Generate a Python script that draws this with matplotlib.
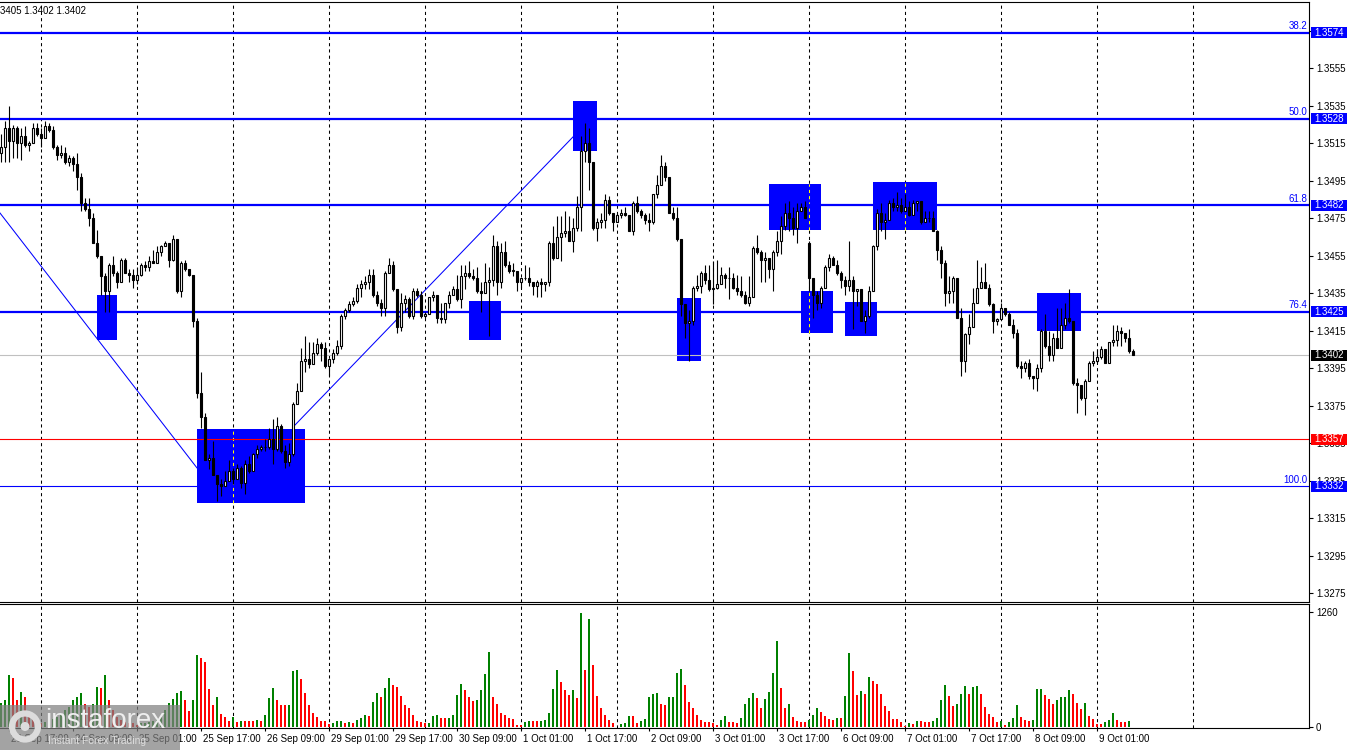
import matplotlib
matplotlib.use('Agg')
import matplotlib.pyplot as plt
import matplotlib.patches as mpatches
import matplotlib.transforms as mtransforms
import numpy as np

plt.rcParams['font.family'] = ['Liberation Sans', 'DejaVu Sans']

# H1 candles, prices in points (1 point = 0.0001)
first_open = 13510
gap_open = {202: 13462}
close_pts = [
    13513, 13523, 13516, 13523, 13515, 13519, 13514, 13515, 13523, 13520,
    13518, 13524, 13522, 13513, 13509, 13510, 13505, 13507, 13504, 13497,
    13483, 13480, 13475, 13462, 13455, 13444, 13436, 13450, 13446, 13441,
    13453, 13446, 13445, 13442, 13445, 13450, 13449, 13452, 13451, 13457,
    13460, 13462, 13453, 13464, 13436, 13451, 13448, 13445, 13420, 13382,
    13369, 13346, 13347, 13338, 13333, 13332, 13335, 13340, 13336, 13342,
    13334, 13344, 13340, 13349, 13352, 13353, 13353, 13357, 13352, 13364,
    13351, 13345, 13349, 13376, 13383, 13399, 13400, 13397, 13403, 13408,
    13406, 13396, 13400, 13403, 13407, 13423, 13426, 13429, 13431, 13438,
    13440, 13441, 13445, 13434, 13430, 13427, 13446, 13450, 13437, 13417,
    13430, 13432, 13423, 13436, 13434, 13423, 13424, 13433, 13434, 13422,
    13421, 13430, 13434, 13437, 13432, 13444, 13446, 13444, 13443, 13436,
    13435, 13441, 13442, 13460, 13441, 13457, 13450, 13447, 13447, 13441,
    13443, 13443, 13441, 13439, 13441, 13440, 13441, 13462, 13454, 13465,
    13467, 13468, 13463, 13470, 13481, 13511, 13515, 13505, 13470, 13473,
    13474, 13485, 13478, 13473, 13477, 13478, 13477, 13468, 13483, 13479,
    13477, 13474, 13473, 13488, 13493, 13503, 13497, 13478, 13475, 13464,
    13429, 13419, 13420, 13438, 13439, 13446, 13442, 13437, 13438, 13440,
    13445, 13443, 13443, 13438, 13436, 13434, 13430, 13433, 13459, 13457,
    13453, 13454, 13448, 13457, 13463, 13471, 13478, 13475, 13470, 13479,
    13481, 13475, 13443, 13434, 13430, 13438, 13449, 13454, 13450, 13446,
    13442, 13439, 13442, 13436, 13437, 13420, 13423, 13436, 13460, 13478,
    13473, 13474, 13483, 13481, 13482, 13479, 13481, 13477, 13483, 13484,
    13473, 13475, 13475, 13468, 13458, 13451, 13435, 13436, 13443, 13422,
    13399, 13413, 13417, 13430, 13438, 13441, 13438, 13429, 13420, 13421,
    13427, 13424, 13418, 13414, 13396, 13395, 13398, 13391, 13390, 13395,
    13415, 13407, 13402, 13411, 13406, 13418, 13422, 13420, 13387, 13386,
    13379, 13388, 13398, 13399, 13401, 13405, 13398, 13409, 13410, 13415,
    13414, 13411, 13404, 13402,
]
high_pts = [
    13520, 13527, 13535, 13525, 13524, 13523, 13524, 13516, 13526, 13526,
    13523, 13527, 13526, 13524, 13514, 13514, 13513, 13509, 13508, 13510,
    13499, 13486, 13486, 13478, 13469, 13455, 13446, 13451, 13455, 13447,
    13454, 13454, 13448, 13448, 13449, 13451, 13452, 13455, 13458, 13460,
    13461, 13463, 13461, 13466, 13463, 13452, 13453, 13448, 13445, 13422,
    13393, 13371, 13349, 13356, 13338, 13336, 13340, 13346, 13342, 13344,
    13343, 13346, 13348, 13350, 13354, 13354, 13357, 13363, 13368, 13369,
    13365, 13354, 13355, 13377, 13387, 13406, 13412, 13409, 13409, 13411,
    13409, 13409, 13400, 13405, 13410, 13424, 13427, 13431, 13433, 13440,
    13442, 13444, 13448, 13448, 13436, 13432, 13447, 13454, 13452, 13436,
    13435, 13434, 13433, 13438, 13438, 13436, 13425, 13433, 13436, 13432,
    13430, 13430, 13436, 13439, 13445, 13450, 13450, 13452, 13448, 13449,
    13441, 13451, 13449, 13466, 13463, 13462, 13463, 13452, 13451, 13447,
    13443, 13450, 13449, 13441, 13442, 13443, 13441, 13463, 13471, 13476,
    13476, 13479, 13476, 13475, 13487, 13519, 13526, 13523, 13505, 13475,
    13478, 13488, 13487, 13478, 13478, 13480, 13481, 13476, 13484, 13487,
    13480, 13478, 13478, 13488, 13498, 13509, 13505, 13497, 13481, 13481,
    13464, 13429, 13426, 13439, 13445, 13447, 13450, 13450, 13452, 13453,
    13449, 13446, 13449, 13446, 13445, 13444, 13436, 13444, 13460, 13466,
    13458, 13457, 13454, 13458, 13468, 13476, 13483, 13484, 13481, 13483,
    13483, 13484, 13463, 13443, 13436, 13439, 13450, 13456, 13455, 13453,
    13447, 13444, 13463, 13444, 13437, 13436, 13426, 13439, 13461, 13480,
    13483, 13478, 13485, 13486, 13489, 13486, 13488, 13484, 13485, 13484,
    13480, 13479, 13479, 13479, 13469, 13460, 13453, 13444, 13444, 13443,
    13427, 13414, 13424, 13438, 13453, 13449, 13451, 13440, 13430, 13422,
    13430, 13427, 13425, 13421, 13416, 13399, 13399, 13400, 13391, 13397,
    13416, 13424, 13415, 13414, 13427, 13427, 13430, 13437, 13420, 13390,
    13386, 13389, 13399, 13404, 13405, 13407, 13405, 13409, 13418, 13418,
    13417, 13414, 13416, 13405,
]
low_pts = [
    13505, 13505, 13505, 13507, 13507, 13506, 13513, 13511, 13515, 13519,
    13513, 13518, 13521, 13512, 13506, 13507, 13504, 13503, 13500, 13490,
    13479, 13479, 13471, 13462, 13454, 13434, 13425, 13425, 13444, 13438,
    13441, 13446, 13441, 13438, 13440, 13444, 13447, 13447, 13451, 13452,
    13455, 13460, 13449, 13452, 13435, 13433, 13447, 13444, 13417, 13379,
    13363, 13346, 13341, 13338, 13324, 13327, 13332, 13335, 13333, 13336,
    13331, 13328, 13339, 13340, 13347, 13351, 13351, 13352, 13344, 13351,
    13350, 13342, 13343, 13348, 13376, 13383, 13393, 13395, 13397, 13402,
    13399, 13395, 13391, 13398, 13402, 13405, 13421, 13425, 13428, 13430,
    13433, 13437, 13437, 13433, 13428, 13423, 13423, 13446, 13436, 13414,
    13415, 13425, 13422, 13421, 13433, 13422, 13422, 13425, 13431, 13419,
    13419, 13419, 13427, 13434, 13431, 13427, 13437, 13443, 13442, 13435,
    13425, 13436, 13412, 13439, 13434, 13438, 13449, 13446, 13444, 13436,
    13438, 13442, 13439, 13434, 13433, 13433, 13436, 13439, 13453, 13456,
    13452, 13465, 13463, 13457, 13468, 13468, 13505, 13490, 13469, 13463,
    13470, 13470, 13477, 13468, 13474, 13475, 13476, 13468, 13466, 13478,
    13475, 13472, 13468, 13472, 13486, 13493, 13495, 13478, 13474, 13463,
    13423, 13411, 13399, 13418, 13436, 13435, 13440, 13436, 13429, 13437,
    13440, 13438, 13432, 13437, 13434, 13433, 13429, 13428, 13433, 13456,
    13441, 13441, 13443, 13436, 13455, 13456, 13469, 13468, 13466, 13462,
    13479, 13475, 13436, 13422, 13426, 13427, 13439, 13447, 13450, 13445,
    13438, 13434, 13436, 13416, 13428, 13420, 13414, 13422, 13436, 13458,
    13468, 13464, 13474, 13479, 13479, 13478, 13480, 13476, 13478, 13479,
    13472, 13473, 13473, 13468, 13453, 13443, 13428, 13430, 13430, 13422,
    13391, 13393, 13408, 13417, 13430, 13439, 13438, 13428, 13414, 13418,
    13421, 13423, 13418, 13411, 13395, 13390, 13393, 13389, 13384, 13383,
    13393, 13406, 13399, 13399, 13406, 13406, 13416, 13419, 13386, 13371,
    13378, 13370, 13388, 13396, 13398, 13400, 13398, 13398, 13407, 13407,
    13407, 13409, 13403, 13402,
]
volumes = [
    260, 296, 570, 533, 296, 387, 332, 150, 95, 77,
    40, 58, 69, 84, 113, 150, 186, 223, 296, 325,
    369, 248, 223, 252, 435, 430, 570, 296, 186, 113,
    77, 58, 47, 40, 22, 40, 47, 58, 69, 84,
    113, 186, 260, 307, 369, 398, 296, 175, 296, 789,
    753, 716, 413, 241, 332, 142, 106, 69, 113, 58,
    69, 69, 66, 66, 77, 69, 132, 314, 424, 296,
    241, 236, 245, 614, 625, 523, 369, 241, 150, 106,
    69, 66, 33, 47, 62, 69, 47, 58, 47, 77,
    95, 132, 121, 278, 376, 332, 424, 533, 460, 435,
    340, 241, 205, 132, 69, 58, 40, 47, 124, 132,
    102, 95, 98, 132, 351, 471, 405, 325, 289, 296,
    405, 581, 818, 332, 252, 150, 132, 95, 93, 22,
    20, 58, 69, 69, 69, 70, 77, 150, 413, 625,
    497, 405, 351, 405, 314, 1250, 625, 1184, 680, 340,
    205, 132, 77, 47, 4, 33, 47, 121, 118, 47,
    69, 88, 325, 362, 376, 252, 241, 325, 332, 588,
    636, 460, 278, 205, 132, 77, 58, 55, 47, 22,
    77, 124, 58, 55, 47, 95, 252, 321, 369, 314,
    212, 307, 380, 588, 943, 424, 205, 252, 113, 69,
    58, 50, 77, 132, 205, 168, 121, 84, 80, 102,
    95, 340, 808, 614, 351, 395, 362, 545, 504, 471,
    358, 234, 175, 88, 85, 55, 11, 40, 38, 69,
    66, 51, 50, 66, 95, 296, 460, 340, 230, 252,
    358, 449, 362, 442, 445, 362, 223, 142, 106, 51,
    69, 22, 55, 95, 241, 106, 77, 69, 77, 413,
    416, 351, 303, 252, 296, 325, 328, 405, 358, 260,
    194, 260, 121, 84, 33, 30, 58, 77, 150, 77,
    55, 52, 66, 2,
]

fib_prices = [1.3574, 1.3528, 1.3482, 1.3425, 1.3332]
fib_names = ['38.2', '50.0', '61.8', '76.4', '100.0']
support_price = 1.3357
last_price = 1.3402

# rectangles: bar index left/right, price low/high
box_left = [24, 49, 117, 143, 169, 192, 200, 211, 218, 259]
box_right = [29, 76, 125, 149, 175, 205, 208, 219, 234, 270]
box_low = [1.3410, 1.3323, 1.3410, 1.3511, 1.3399, 1.3469, 1.3414, 1.3412, 1.3469, 1.3415]
box_high = [1.3434, 1.33625, 1.3431, 1.35376, 1.34325, 1.34933, 1.34362, 1.34303, 1.34944, 1.34351]

# trend lines (bar index, price)
trend_x = [(-0.25, 49), (73.5, 143)]
trend_y = [(1.34778, 1.33418), (1.33647, 1.35184)]

grid_idx = [10, 34, 58, 82, 106, 130, 154, 178, 202, 226, 250, 274, 298]
label_idx = [2, 18, 34, 50, 66, 82, 98, 114, 130, 146, 162, 178, 194, 210, 226, 242, 258, 274]
labels = ['23 Sep 17:00', '24 Sep 09:00', '25 Sep 01:00', '25 Sep 17:00', '26 Sep 09:00',
          '29 Sep 01:00', '29 Sep 17:00', '30 Sep 09:00', '1 Oct 01:00', '1 Oct 17:00',
          '2 Oct 09:00', '3 Oct 01:00', '3 Oct 17:00', '6 Oct 09:00', '7 Oct 01:00',
          '7 Oct 17:00', '8 Oct 09:00', '9 Oct 01:00']
yticks = [1.3275, 1.3295, 1.3315, 1.3335, 1.3355, 1.3375, 1.3395, 1.3415, 1.3435,
          1.3455, 1.3475, 1.3495, 1.3515, 1.3535, 1.3555, 1.3575]

n = len(close_pts)
idx = np.arange(n)
close = np.array(close_pts) / 1e4
opn = np.concatenate([[first_open], close_pts[:-1]]) / 1e4
for k, v in gap_open.items():
    opn[k] = v / 1e4
high = np.maximum(np.array(high_pts) / 1e4, np.maximum(opn, close))
low = np.minimum(np.array(low_pts) / 1e4, np.minimum(opn, close))

W, H = 1350, 750
fig = plt.figure(figsize=(13.5, 7.5), dpi=100)
ax = fig.add_axes([0, 1 - 602 / H, 1309 / W, 600 / H])
axv = fig.add_axes([0, 1 - 728 / H, 1309 / W, 124 / H])

ymin, ymax = 1.327028, 1.359038
pxp = (ymax - ymin) / 600.0

for a in (ax, axv):
    a.set_xlim(-0.25, 327)
    a.spines['left'].set_visible(False)
    for s in a.spines.values():
        s.set_linewidth(0.8)
    a.tick_params(axis='y', left=False, labelleft=False, right=True, labelright=True,
                  direction='out', length=3, width=0.8, labelsize=7, pad=2)
    for g in grid_idx:
        a.axvline(g, color='black', lw=0.75, ls=(0, (3, 3)), zorder=0.5)

ax.set_ylim(ymin, ymax)
ax.set_xticks([])
ax.set_yticks(yticks)
ax.set_yticklabels(['%.4f' % t for t in yticks])

# rectangles
for l, r, lo, hi in zip(box_left, box_right, box_low, box_high):
    ax.add_patch(mpatches.Rectangle((l, lo), r - l, hi - lo, facecolor='#0000FF',
                                    edgecolor='none', zorder=1))
    for g in grid_idx:
        if l < g < r:
            ax.plot([g, g], [lo, hi], color='#FFFF00', lw=0.75, ls=(0, (3, 3)), zorder=1.1)

# horizontal levels
for p, name in zip(fib_prices, fib_names):
    ax.axhline(p, color='#0000FF', lw=0.8 if name == '100.0' else 1.6, zorder=1.5)
ax.axhline(support_price, color='#FF0000', lw=0.8, zorder=1.5)
ax.axhline(last_price, color='#C0C0C0', lw=0.8, zorder=1.4)

for xs, ys in zip(trend_x, trend_y):
    ax.plot(xs, ys, color='#0000FF', lw=0.75, zorder=1.6)

# candles
up = close >= opn
ax.vlines(idx, low, high, color='black', lw=0.8, zorder=3)
body_lo = np.minimum(opn, close)
body_h = np.maximum(np.abs(close - opn), 0.00002)
ax.bar(idx, body_h, bottom=body_lo, width=0.55, color=np.where(up, 'white', 'black'),
       edgecolor='black', linewidth=0.8, zorder=4)

# right-side tags
trans = mtransforms.blended_transform_factory(ax.transAxes, ax.transData)
def tag(price, text, fc):
    h = 11 * pxp
    ax.add_patch(mpatches.Rectangle((1311 / 1309, price - h / 2), 36 / 1309, h, transform=trans,
                                    facecolor=fc, edgecolor='none', clip_on=False, zorder=6))
    ax.text(1329 / 1309, price, text, transform=trans, ha='center', va='center',
            color='white', fontsize=7, zorder=7, clip_on=False)

for p, name in zip(fib_prices, fib_names):
    tag(p, '%.4f' % p, '#0000FF')
    ax.text(1307 / 1309, p + 1.5 * pxp, name, transform=trans, ha='right', va='bottom',
            color='#0000FF', fontsize=7, zorder=6)
tag(support_price, '%.4f' % support_price, '#FF0000')
tag(last_price, '%.4f' % last_price, 'black')

# volumes
vol = np.array(volumes)
prev = np.concatenate([[0], vol[:-1]])
vcol = np.where(vol > prev, '#008000', '#FF0000')
axv.bar(idx, vol, width=0.6, color=vcol, zorder=2)
axv.set_ylim(-11, 1348)
axv.set_yticks([0, 1260])
axv.set_yticklabels(['0', '1260'])
axv.set_xticks(label_idx)
axv.set_xticklabels(labels)
axv.tick_params(axis='x', direction='out', length=2.5, width=0.8, labelsize=7, pad=1.5)
shift = mtransforms.ScaledTranslation(2 / 100, 0, fig.dpi_scale_trans)
for lbl in axv.get_xticklabels():
    lbl.set_ha('left')
    lbl.set_transform(lbl.get_transform() + shift)

fig.text(0.0, 1 - 11 / H, '3405 1.3402 1.3402', fontsize=7, va='center', ha='left')

# watermark
fig.add_artist(mpatches.Rectangle((0, 0), 180 / W, 45 / H, transform=fig.transFigure,
                                  facecolor='#808080', alpha=0.72, edgecolor='none', zorder=10))
fig.add_artist(mpatches.Circle((0.25, 0.235), 0.13, transform=fig.dpi_scale_trans,
                               facecolor='none', edgecolor='#dcdcdc', lw=4.5, zorder=11))
fig.add_artist(mpatches.Circle((0.25, 0.235), 0.045, transform=fig.dpi_scale_trans,
                               facecolor='#dcdcdc', edgecolor='none', zorder=11))
fig.text(45 / W, 1 - 721 / H, 'instaforex', fontsize=20, color='#eeeeee', va='center',
         ha='left', zorder=11)
fig.text(48 / W, 1 - 741 / H, 'Instant Forex Trading', fontsize=7.5, color='#dddddd',
         va='center', ha='left', zorder=11)

fig.savefig('out.png', dpi=100)
